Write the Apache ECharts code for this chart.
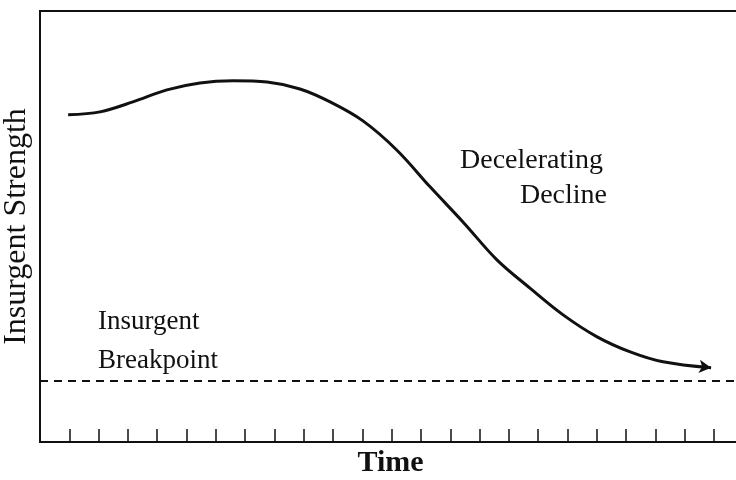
<!DOCTYPE html>
<html>
<head>
    <meta charset="utf-8">
    <title>Insurgent Strength</title>
    <script src="https://cdn.jsdelivr.net/npm/echarts@6/dist/echarts.min.js"></script>
</head>
<body style="margin:0;background:#fff;">
    <div id="main" style="width: 736px;height:480px;"></div>
    <script type="text/javascript">
        // data (x in tick units, y in % of axis height)
        var timeVals = [0.96, 2.05, 3.17, 4.33, 5.46, 6.59, 7.75, 8.87, 9.90, 11.02, 12.18, 13.31, 14.44, 15.60, 16.72, 17.85, 19.01, 20.14, 21.26, 22.90];
        var strength = [75.9, 76.6, 78.9, 81.7, 83.3, 83.8, 83.5, 81.9, 78.9, 74.5, 67.7, 59.2, 51.0, 42.2, 35.7, 29.5, 24.4, 20.9, 18.6, 17.2];
        var breakpoint = 14.2;

        var ink = '#111';
        var serif = '"Liberation Serif", "DejaVu Serif", serif';

        var lineData = timeVals.map(function (t, i) {
            var item = { value: [t, strength[i]] };
            if (i === timeVals.length - 1) {
                item.symbol = 'arrow';
                item.symbolSize = [10, 12];
                item.symbolRotate = -97;
                item.itemStyle = { color: ink };
            }
            return item;
        });

        var myChart = echarts.init(document.getElementById('main'));
        myChart.setOption({
            animation: false,
            backgroundColor: '#fff',
            grid: {
                left: 40, top: 11, right: -5, bottom: 38,
                outerBoundsMode: 'none',
                containLabel: false,
                show: true, borderColor: ink, borderWidth: 2
            },
            xAxis: {
                type: 'value',
                min: 0,
                max: 23.92,
                interval: 1,
                name: 'Time',
                nameLocation: 'middle',
                nameGap: 6,
                nameTextStyle: { fontFamily: serif, fontSize: 30, fontWeight: 'bold', color: ink, verticalAlign: 'top' },
                axisLine: { lineStyle: { color: ink, width: 2 } },
                axisTick: { inside: true, length: 13, lineStyle: { color: ink, width: 1.5 } },
                axisLabel: { show: false },
                splitLine: { show: false }
            },
            yAxis: {
                type: 'value',
                min: 0,
                max: 100,
                name: 'Insurgent Strength',
                nameLocation: 'middle',
                nameGap: 7,
                nameTextStyle: { fontFamily: serif, fontSize: 32, color: ink },
                axisLine: { show: true, lineStyle: { color: ink, width: 2 } },
                axisTick: { show: false },
                axisLabel: { show: false },
                splitLine: { show: false }
            },
            series: [{
                type: 'line',
                smooth: 0.35,
                symbol: 'none',
                showSymbol: true,
                lineStyle: { color: ink, width: 3 },
                data: lineData,
                markLine: {
                    silent: true,
                    symbol: ['none', 'none'],
                    label: { show: false },
                    lineStyle: { color: ink, type: [8, 6], width: 2 },
                    data: [{ yAxis: breakpoint }]
                }
            }],
            graphic: [
                { type: 'text', x: 460, y: 147, style: { text: 'Decelerating', font: '28px ' + serif, fill: ink } },
                { type: 'text', x: 607, y: 182, style: { text: 'Decline', font: '28px ' + serif, fill: ink, align: 'right' } },
                { type: 'text', x: 98, y: 308, style: { text: 'Insurgent', font: '27px ' + serif, fill: ink } },
                { type: 'text', x: 98, y: 347, style: { text: 'Breakpoint', font: '27px ' + serif, fill: ink } }
            ]
        });
    </script>
</body>
</html>
